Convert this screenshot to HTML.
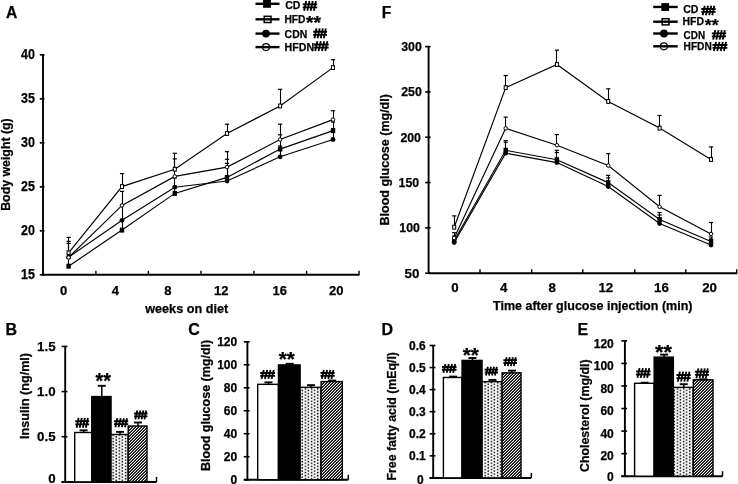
<!DOCTYPE html>
<html><head><meta charset="utf-8"><style>
html,body{margin:0;padding:0;background:#fff;overflow:hidden;width:738px;height:484px;}
svg{display:block;}
text{font-family:"Liberation Sans", sans-serif;fill:#000;stroke:#000;stroke-width:0.25px;}
svg{will-change:transform;}
</style></head><body>
<svg width="738" height="484" viewBox="0 0 738 484">
<rect width="738" height="484" fill="#fff"/>
<defs><pattern id="dots" width="6.2" height="3.1" patternUnits="userSpaceOnUse"><rect width="6.2" height="3.1" fill="#fff"/><rect x="0.8" y="0.6" width="1.5" height="1.5" fill="#000"/><rect x="3.9" y="2.15" width="1.5" height="1.5" fill="#000"/><rect x="3.9" y="-0.95" width="1.5" height="1.5" fill="#000"/></pattern><pattern id="hatch" width="3" height="3" patternUnits="userSpaceOnUse"><rect width="3" height="3" fill="#000"/><g fill="#fff" shape-rendering="crispEdges"><rect x="2" y="0" width="1" height="1"/><rect x="1" y="1" width="1" height="1"/><rect x="0" y="2" width="1" height="1"/></g><g fill="#4a4a4a" shape-rendering="crispEdges"><rect x="0" y="0" width="1" height="1"/><rect x="2" y="1" width="1" height="1"/><rect x="1" y="2" width="1" height="1"/></g></pattern></defs>
<text x="5.9" y="18.4" font-size="15.6" font-weight="bold" text-anchor="start" >A</text>
<line x1="43" y1="54.5" x2="43" y2="275.40000000000003" stroke="#000" stroke-width="1.9"/>
<line x1="39.8" y1="274.8" x2="44.5" y2="274.8" stroke="#000" stroke-width="1.7"/>
<text x="34.9" y="279.3" font-size="13.9" font-weight="bold" text-anchor="end" textLength="13.9" lengthAdjust="spacingAndGlyphs" >15</text>
<line x1="39.8" y1="230.8" x2="44.5" y2="230.8" stroke="#000" stroke-width="1.7"/>
<text x="34.9" y="235.3" font-size="13.9" font-weight="bold" text-anchor="end" textLength="13.9" lengthAdjust="spacingAndGlyphs" >20</text>
<line x1="39.8" y1="186.8" x2="44.5" y2="186.8" stroke="#000" stroke-width="1.7"/>
<text x="34.9" y="191.3" font-size="13.9" font-weight="bold" text-anchor="end" textLength="13.9" lengthAdjust="spacingAndGlyphs" >25</text>
<line x1="39.8" y1="142.8" x2="44.5" y2="142.8" stroke="#000" stroke-width="1.7"/>
<text x="34.9" y="147.3" font-size="13.9" font-weight="bold" text-anchor="end" textLength="13.9" lengthAdjust="spacingAndGlyphs" >30</text>
<line x1="39.8" y1="98.80000000000001" x2="44.5" y2="98.80000000000001" stroke="#000" stroke-width="1.7"/>
<text x="34.9" y="103.30000000000001" font-size="13.9" font-weight="bold" text-anchor="end" textLength="13.9" lengthAdjust="spacingAndGlyphs" >35</text>
<line x1="39.8" y1="54.79999999999998" x2="44.5" y2="54.79999999999998" stroke="#000" stroke-width="1.7"/>
<text x="34.9" y="59.29999999999998" font-size="13.9" font-weight="bold" text-anchor="end" textLength="13.9" lengthAdjust="spacingAndGlyphs" >40</text>
<line x1="43" y1="274.8" x2="359.5" y2="274.8" stroke="#000" stroke-width="2.0"/>
<line x1="95.9" y1="274.8" x2="95.9" y2="270.8" stroke="#000" stroke-width="1.4"/>
<line x1="148.4" y1="274.8" x2="148.4" y2="270.8" stroke="#000" stroke-width="1.4"/>
<line x1="201" y1="274.8" x2="201" y2="270.8" stroke="#000" stroke-width="1.4"/>
<line x1="253.9" y1="274.8" x2="253.9" y2="270.8" stroke="#000" stroke-width="1.4"/>
<line x1="306.6" y1="274.8" x2="306.6" y2="270.8" stroke="#000" stroke-width="1.4"/>
<line x1="359" y1="274.8" x2="359" y2="270.8" stroke="#000" stroke-width="1.4"/>
<text x="63.6" y="295.3" font-size="13" font-weight="bold" text-anchor="middle" >0</text>
<text x="115.4" y="295.3" font-size="13" font-weight="bold" text-anchor="middle" >4</text>
<text x="167.9" y="295.3" font-size="13" font-weight="bold" text-anchor="middle" >8</text>
<text x="221.2" y="295.3" font-size="13" font-weight="bold" text-anchor="middle" >12</text>
<text x="279.8" y="295.3" font-size="13" font-weight="bold" text-anchor="middle" >16</text>
<text x="336.3" y="295.3" font-size="13" font-weight="bold" text-anchor="middle" >20</text>
<text x="145.2" y="313" font-size="12.6" font-weight="bold" text-anchor="start" textLength="83" lengthAdjust="spacingAndGlyphs" >weeks on diet</text>
<text x="10" y="210.8" font-size="12.3" font-weight="bold" text-anchor="start" textLength="92.5" lengthAdjust="spacingAndGlyphs" transform="rotate(-90 10 210.8)" >Body weight (g)</text>
<line x1="68.5" y1="266.2" x2="68.5" y2="258" stroke="#000" stroke-width="1.1"/>
<line x1="66.5" y1="258" x2="70.69999999999999" y2="258" stroke="#000" stroke-width="1.2"/>
<line x1="122.5" y1="230.1" x2="122.5" y2="220" stroke="#000" stroke-width="1.1"/>
<line x1="119.9" y1="220" x2="124.1" y2="220" stroke="#000" stroke-width="1.2"/>
<line x1="174.5" y1="193.4" x2="174.5" y2="186" stroke="#000" stroke-width="1.1"/>
<line x1="172.70000000000002" y1="186" x2="176.9" y2="186" stroke="#000" stroke-width="1.2"/>
<line x1="227.5" y1="177.4" x2="227.5" y2="159.3" stroke="#000" stroke-width="1.1"/>
<line x1="224.9" y1="159.3" x2="229.1" y2="159.3" stroke="#000" stroke-width="1.2"/>
<line x1="280.5" y1="149.1" x2="280.5" y2="134.8" stroke="#000" stroke-width="1.1"/>
<line x1="278.0" y1="134.8" x2="282.20000000000005" y2="134.8" stroke="#000" stroke-width="1.2"/>
<line x1="333.5" y1="130.6" x2="333.5" y2="122" stroke="#000" stroke-width="1.1"/>
<line x1="330.9" y1="122" x2="335.1" y2="122" stroke="#000" stroke-width="1.2"/>
<line x1="68.5" y1="257.2" x2="68.5" y2="243.4" stroke="#000" stroke-width="1.1"/>
<line x1="66.5" y1="243.4" x2="70.69999999999999" y2="243.4" stroke="#000" stroke-width="1.2"/>
<line x1="122.5" y1="220.3" x2="122.5" y2="205" stroke="#000" stroke-width="1.1"/>
<line x1="119.9" y1="205" x2="124.1" y2="205" stroke="#000" stroke-width="1.2"/>
<line x1="174.5" y1="187.2" x2="174.5" y2="178" stroke="#000" stroke-width="1.1"/>
<line x1="172.70000000000002" y1="178" x2="176.9" y2="178" stroke="#000" stroke-width="1.2"/>
<line x1="227.5" y1="181" x2="227.5" y2="163.4" stroke="#000" stroke-width="1.1"/>
<line x1="224.9" y1="163.4" x2="229.1" y2="163.4" stroke="#000" stroke-width="1.2"/>
<line x1="280.5" y1="156.8" x2="280.5" y2="146" stroke="#000" stroke-width="1.1"/>
<line x1="278.0" y1="146" x2="282.20000000000005" y2="146" stroke="#000" stroke-width="1.2"/>
<line x1="333.5" y1="139.5" x2="333.5" y2="131" stroke="#000" stroke-width="1.1"/>
<line x1="330.9" y1="131" x2="335.1" y2="131" stroke="#000" stroke-width="1.2"/>
<line x1="68.5" y1="257.4" x2="68.5" y2="241.3" stroke="#000" stroke-width="1.1"/>
<line x1="66.5" y1="241.3" x2="70.69999999999999" y2="241.3" stroke="#000" stroke-width="1.2"/>
<line x1="122.5" y1="205.4" x2="122.5" y2="191.4" stroke="#000" stroke-width="1.1"/>
<line x1="119.9" y1="191.4" x2="124.1" y2="191.4" stroke="#000" stroke-width="1.2"/>
<line x1="174.5" y1="176.4" x2="174.5" y2="158.9" stroke="#000" stroke-width="1.1"/>
<line x1="172.70000000000002" y1="158.9" x2="176.9" y2="158.9" stroke="#000" stroke-width="1.2"/>
<line x1="227.5" y1="167.1" x2="227.5" y2="151.7" stroke="#000" stroke-width="1.1"/>
<line x1="224.9" y1="151.7" x2="229.1" y2="151.7" stroke="#000" stroke-width="1.2"/>
<line x1="280.5" y1="139.5" x2="280.5" y2="124.2" stroke="#000" stroke-width="1.1"/>
<line x1="278.0" y1="124.2" x2="282.20000000000005" y2="124.2" stroke="#000" stroke-width="1.2"/>
<line x1="333.5" y1="119.6" x2="333.5" y2="110.7" stroke="#000" stroke-width="1.1"/>
<line x1="330.9" y1="110.7" x2="335.1" y2="110.7" stroke="#000" stroke-width="1.2"/>
<line x1="68.5" y1="252.8" x2="68.5" y2="237.4" stroke="#000" stroke-width="1.1"/>
<line x1="66.5" y1="237.4" x2="70.69999999999999" y2="237.4" stroke="#000" stroke-width="1.2"/>
<line x1="122.5" y1="186.6" x2="122.5" y2="173.6" stroke="#000" stroke-width="1.1"/>
<line x1="119.9" y1="173.6" x2="124.1" y2="173.6" stroke="#000" stroke-width="1.2"/>
<line x1="174.5" y1="169.2" x2="174.5" y2="153.3" stroke="#000" stroke-width="1.1"/>
<line x1="172.70000000000002" y1="153.3" x2="176.9" y2="153.3" stroke="#000" stroke-width="1.2"/>
<line x1="227.5" y1="133.5" x2="227.5" y2="124.2" stroke="#000" stroke-width="1.1"/>
<line x1="224.9" y1="124.2" x2="229.1" y2="124.2" stroke="#000" stroke-width="1.2"/>
<line x1="280.5" y1="106" x2="280.5" y2="89.3" stroke="#000" stroke-width="1.1"/>
<line x1="278.0" y1="89.3" x2="282.20000000000005" y2="89.3" stroke="#000" stroke-width="1.2"/>
<line x1="333.5" y1="67.6" x2="333.5" y2="59.7" stroke="#000" stroke-width="1.1"/>
<line x1="330.9" y1="59.7" x2="335.1" y2="59.7" stroke="#000" stroke-width="1.2"/>
<polyline points="68.6,266.2 122,230.1 174.8,193.4 227,177.4 280.1,149.1 333,130.6" fill="none" stroke="#000" stroke-width="1.15"/>
<polyline points="68.6,257.2 122,220.3 174.8,187.2 227,181 280.1,156.8 333,139.5" fill="none" stroke="#000" stroke-width="1.15"/>
<polyline points="68.6,257.4 122,205.4 174.8,176.4 227,167.1 280.1,139.5 333,119.6" fill="none" stroke="#000" stroke-width="1.15"/>
<polyline points="68.6,252.8 122,186.6 174.8,169.2 227,133.5 280.1,106 333,67.6" fill="none" stroke="#000" stroke-width="1.15"/>
<rect x="66.39999999999999" y="263.7" width="4.4" height="5.0" fill="#000"/>
<rect x="119.8" y="227.6" width="4.4" height="5.0" fill="#000"/>
<rect x="172.60000000000002" y="190.9" width="4.4" height="5.0" fill="#000"/>
<rect x="224.8" y="174.9" width="4.4" height="5.0" fill="#000"/>
<rect x="277.90000000000003" y="146.6" width="4.4" height="5.0" fill="#000"/>
<rect x="330.8" y="128.1" width="4.4" height="5.0" fill="#000"/>
<circle cx="68.6" cy="257.2" r="2.4" fill="#000"/>
<circle cx="122" cy="220.3" r="2.4" fill="#000"/>
<circle cx="174.8" cy="187.2" r="2.4" fill="#000"/>
<circle cx="227" cy="181" r="2.4" fill="#000"/>
<circle cx="280.1" cy="156.8" r="2.4" fill="#000"/>
<circle cx="333" cy="139.5" r="2.4" fill="#000"/>
<circle cx="68.6" cy="257.4" r="1.75" fill="#fff" stroke="#000" stroke-width="1"/>
<circle cx="122" cy="205.4" r="1.75" fill="#fff" stroke="#000" stroke-width="1"/>
<circle cx="174.8" cy="176.4" r="1.75" fill="#fff" stroke="#000" stroke-width="1"/>
<circle cx="227" cy="167.1" r="1.75" fill="#fff" stroke="#000" stroke-width="1"/>
<circle cx="280.1" cy="139.5" r="1.75" fill="#fff" stroke="#000" stroke-width="1"/>
<circle cx="333" cy="119.6" r="1.75" fill="#fff" stroke="#000" stroke-width="1"/>
<rect x="67.1" y="250.9" width="3.0" height="3.8" fill="#fff" stroke="#000" stroke-width="1.05"/>
<rect x="120.5" y="184.7" width="3.0" height="3.8" fill="#fff" stroke="#000" stroke-width="1.05"/>
<rect x="173.3" y="167.29999999999998" width="3.0" height="3.8" fill="#fff" stroke="#000" stroke-width="1.05"/>
<rect x="225.5" y="131.6" width="3.0" height="3.8" fill="#fff" stroke="#000" stroke-width="1.05"/>
<rect x="278.6" y="104.1" width="3.0" height="3.8" fill="#fff" stroke="#000" stroke-width="1.05"/>
<rect x="331.5" y="65.69999999999999" width="3.0" height="3.8" fill="#fff" stroke="#000" stroke-width="1.05"/>
<line x1="255.5" y1="3.8" x2="279.5" y2="3.8" stroke="#000" stroke-width="2.4"/>
<rect x="263.1" y="0.0" width="7.8" height="7.8" fill="#000"/>
<line x1="255.5" y1="19.3" x2="279.5" y2="19.3" stroke="#000" stroke-width="2.4"/>
<rect x="264.20000000000005" y="16.3" width="6.8" height="6.2" fill="#fff" stroke="#000" stroke-width="1.5"/>
<line x1="264.0" y1="19.3" x2="271.20000000000005" y2="19.3" stroke="#000" stroke-width="2.4"/>
<line x1="255.5" y1="33.6" x2="279.5" y2="33.6" stroke="#000" stroke-width="2.4"/>
<circle cx="266" cy="33.6" r="3.9" fill="#000"/>
<line x1="255.5" y1="47.1" x2="279.5" y2="47.1" stroke="#000" stroke-width="2.4"/>
<circle cx="266" cy="47.1" r="3.5" fill="#fff" stroke="#000" stroke-width="1.2"/>
<line x1="262.5" y1="47.1" x2="269.5" y2="47.1" stroke="#000" stroke-width="2.4"/>
<text x="381.7" y="18.4" font-size="15.6" font-weight="bold" text-anchor="start" >F</text>
<line x1="428.6" y1="46" x2="428.6" y2="273.8" stroke="#000" stroke-width="1.9"/>
<line x1="425.1" y1="273.2" x2="430.6" y2="273.2" stroke="#000" stroke-width="1.6"/>
<text x="419.3" y="277.5" font-size="13.3" font-weight="bold" text-anchor="end" >50</text>
<line x1="425.1" y1="227.88" x2="430.6" y2="227.88" stroke="#000" stroke-width="1.6"/>
<text x="419.9" y="232.18" font-size="13.3" font-weight="bold" text-anchor="end" textLength="20.6" lengthAdjust="spacingAndGlyphs" >100</text>
<line x1="425.1" y1="182.56" x2="430.6" y2="182.56" stroke="#000" stroke-width="1.6"/>
<text x="419.2" y="186.86" font-size="13.3" font-weight="bold" text-anchor="end" textLength="20.6" lengthAdjust="spacingAndGlyphs" >150</text>
<line x1="425.1" y1="137.23999999999998" x2="430.6" y2="137.23999999999998" stroke="#000" stroke-width="1.6"/>
<text x="421" y="141.54" font-size="13.3" font-weight="bold" text-anchor="end" textLength="20.6" lengthAdjust="spacingAndGlyphs" >200</text>
<line x1="425.1" y1="91.91999999999999" x2="430.6" y2="91.91999999999999" stroke="#000" stroke-width="1.6"/>
<text x="421.8" y="96.21999999999998" font-size="13.3" font-weight="bold" text-anchor="end" textLength="20.6" lengthAdjust="spacingAndGlyphs" >250</text>
<line x1="425.1" y1="46.599999999999994" x2="430.6" y2="46.599999999999994" stroke="#000" stroke-width="1.6"/>
<text x="421.8" y="50.89999999999999" font-size="13.3" font-weight="bold" text-anchor="end" textLength="20.6" lengthAdjust="spacingAndGlyphs" >300</text>
<line x1="428.6" y1="273.2" x2="737.2" y2="273.2" stroke="#000" stroke-width="2.0"/>
<line x1="480" y1="273.2" x2="480" y2="269.2" stroke="#000" stroke-width="1.4"/>
<line x1="531.7" y1="273.2" x2="531.7" y2="269.2" stroke="#000" stroke-width="1.4"/>
<line x1="582.8" y1="273.2" x2="582.8" y2="269.2" stroke="#000" stroke-width="1.4"/>
<line x1="634.8" y1="273.2" x2="634.8" y2="269.2" stroke="#000" stroke-width="1.4"/>
<line x1="685.8" y1="273.2" x2="685.8" y2="269.2" stroke="#000" stroke-width="1.4"/>
<line x1="736.7" y1="273.2" x2="736.7" y2="269.2" stroke="#000" stroke-width="1.4"/>
<text x="454.9" y="291.9" font-size="13.3" font-weight="bold" text-anchor="middle" >0</text>
<text x="503.6" y="291.9" font-size="13.3" font-weight="bold" text-anchor="middle" >4</text>
<text x="552.3" y="291.9" font-size="13.3" font-weight="bold" text-anchor="middle" >8</text>
<text x="605.8" y="291.9" font-size="13.3" font-weight="bold" text-anchor="middle" >12</text>
<text x="661.5" y="291.9" font-size="13.3" font-weight="bold" text-anchor="middle" >16</text>
<text x="709.6" y="291.9" font-size="13.3" font-weight="bold" text-anchor="middle" >20</text>
<text x="493" y="309.9" font-size="12.6" font-weight="bold" text-anchor="start" textLength="199.5" lengthAdjust="spacingAndGlyphs" >Time after glucose injection (min)</text>
<text x="389.4" y="225.4" font-size="12.5" font-weight="bold" text-anchor="start" textLength="131.3" lengthAdjust="spacingAndGlyphs" transform="rotate(-90 389.4 225.4)" >Blood glucose (mg/dl)</text>
<line x1="454.5" y1="240.5" x2="454.5" y2="236" stroke="#000" stroke-width="1.1"/>
<line x1="452.09999999999997" y1="236" x2="456.3" y2="236" stroke="#000" stroke-width="1.2"/>
<line x1="505.5" y1="150.3" x2="505.5" y2="140.6" stroke="#000" stroke-width="1.1"/>
<line x1="503.59999999999997" y1="140.6" x2="507.8" y2="140.6" stroke="#000" stroke-width="1.2"/>
<line x1="556.5" y1="159.7" x2="556.5" y2="150.3" stroke="#000" stroke-width="1.1"/>
<line x1="554.8" y1="150.3" x2="559.0" y2="150.3" stroke="#000" stroke-width="1.2"/>
<line x1="608.5" y1="182.6" x2="608.5" y2="175.4" stroke="#000" stroke-width="1.1"/>
<line x1="606.1" y1="175.4" x2="610.3000000000001" y2="175.4" stroke="#000" stroke-width="1.2"/>
<line x1="659.5" y1="219.5" x2="659.5" y2="212.5" stroke="#000" stroke-width="1.1"/>
<line x1="657.5" y1="212.5" x2="661.7" y2="212.5" stroke="#000" stroke-width="1.2"/>
<line x1="711.5" y1="241.5" x2="711.5" y2="237" stroke="#000" stroke-width="1.1"/>
<line x1="708.9" y1="237" x2="713.1" y2="237" stroke="#000" stroke-width="1.2"/>
<line x1="454.5" y1="242.5" x2="454.5" y2="240" stroke="#000" stroke-width="1.1"/>
<line x1="452.09999999999997" y1="240" x2="456.3" y2="240" stroke="#000" stroke-width="1.2"/>
<line x1="505.5" y1="153.2" x2="505.5" y2="142.3" stroke="#000" stroke-width="1.1"/>
<line x1="503.59999999999997" y1="142.3" x2="507.8" y2="142.3" stroke="#000" stroke-width="1.2"/>
<line x1="556.5" y1="162.6" x2="556.5" y2="152.5" stroke="#000" stroke-width="1.1"/>
<line x1="554.8" y1="152.5" x2="559.0" y2="152.5" stroke="#000" stroke-width="1.2"/>
<line x1="608.5" y1="186.5" x2="608.5" y2="178" stroke="#000" stroke-width="1.1"/>
<line x1="606.1" y1="178" x2="610.3000000000001" y2="178" stroke="#000" stroke-width="1.2"/>
<line x1="659.5" y1="223.5" x2="659.5" y2="215" stroke="#000" stroke-width="1.1"/>
<line x1="657.5" y1="215" x2="661.7" y2="215" stroke="#000" stroke-width="1.2"/>
<line x1="711.5" y1="245" x2="711.5" y2="239" stroke="#000" stroke-width="1.1"/>
<line x1="708.9" y1="239" x2="713.1" y2="239" stroke="#000" stroke-width="1.2"/>
<line x1="454.5" y1="238" x2="454.5" y2="232.7" stroke="#000" stroke-width="1.1"/>
<line x1="452.09999999999997" y1="232.7" x2="456.3" y2="232.7" stroke="#000" stroke-width="1.2"/>
<line x1="505.5" y1="128.3" x2="505.5" y2="117.1" stroke="#000" stroke-width="1.1"/>
<line x1="503.59999999999997" y1="117.1" x2="507.8" y2="117.1" stroke="#000" stroke-width="1.2"/>
<line x1="556.5" y1="145.2" x2="556.5" y2="134.6" stroke="#000" stroke-width="1.1"/>
<line x1="554.8" y1="134.6" x2="559.0" y2="134.6" stroke="#000" stroke-width="1.2"/>
<line x1="608.5" y1="165.5" x2="608.5" y2="153.6" stroke="#000" stroke-width="1.1"/>
<line x1="606.1" y1="153.6" x2="610.3000000000001" y2="153.6" stroke="#000" stroke-width="1.2"/>
<line x1="659.5" y1="206.8" x2="659.5" y2="195.4" stroke="#000" stroke-width="1.1"/>
<line x1="657.5" y1="195.4" x2="661.7" y2="195.4" stroke="#000" stroke-width="1.2"/>
<line x1="711.5" y1="233.9" x2="711.5" y2="222.5" stroke="#000" stroke-width="1.1"/>
<line x1="708.9" y1="222.5" x2="713.1" y2="222.5" stroke="#000" stroke-width="1.2"/>
<line x1="454.5" y1="227.2" x2="454.5" y2="215.9" stroke="#000" stroke-width="1.1"/>
<line x1="452.09999999999997" y1="215.9" x2="456.3" y2="215.9" stroke="#000" stroke-width="1.2"/>
<line x1="505.5" y1="87.6" x2="505.5" y2="75.6" stroke="#000" stroke-width="1.1"/>
<line x1="503.59999999999997" y1="75.6" x2="507.8" y2="75.6" stroke="#000" stroke-width="1.2"/>
<line x1="556.5" y1="64.5" x2="556.5" y2="50.2" stroke="#000" stroke-width="1.1"/>
<line x1="554.8" y1="50.2" x2="559.0" y2="50.2" stroke="#000" stroke-width="1.2"/>
<line x1="608.5" y1="101.5" x2="608.5" y2="88.8" stroke="#000" stroke-width="1.1"/>
<line x1="606.1" y1="88.8" x2="610.3000000000001" y2="88.8" stroke="#000" stroke-width="1.2"/>
<line x1="659.5" y1="128.1" x2="659.5" y2="115.5" stroke="#000" stroke-width="1.1"/>
<line x1="657.5" y1="115.5" x2="661.7" y2="115.5" stroke="#000" stroke-width="1.2"/>
<line x1="711.5" y1="159.5" x2="711.5" y2="146.9" stroke="#000" stroke-width="1.1"/>
<line x1="708.9" y1="146.9" x2="713.1" y2="146.9" stroke="#000" stroke-width="1.2"/>
<polyline points="454.2,240.5 505.7,150.3 556.9,159.7 608.2,182.6 659.6,219.5 711,241.5" fill="none" stroke="#000" stroke-width="1.15"/>
<polyline points="454.2,242.5 505.7,153.2 556.9,162.6 608.2,186.5 659.6,223.5 711,245" fill="none" stroke="#000" stroke-width="1.15"/>
<polyline points="454.2,238 505.7,128.3 556.9,145.2 608.2,165.5 659.6,206.8 711,233.9" fill="none" stroke="#000" stroke-width="1.15"/>
<polyline points="454.2,227.2 505.7,87.6 556.9,64.5 608.2,101.5 659.6,128.1 711,159.5" fill="none" stroke="#000" stroke-width="1.15"/>
<rect x="452.0" y="238.0" width="4.4" height="5.0" fill="#000"/>
<rect x="503.5" y="147.8" width="4.4" height="5.0" fill="#000"/>
<rect x="554.6999999999999" y="157.2" width="4.4" height="5.0" fill="#000"/>
<rect x="606.0" y="180.1" width="4.4" height="5.0" fill="#000"/>
<rect x="657.4" y="217.0" width="4.4" height="5.0" fill="#000"/>
<rect x="708.8" y="239.0" width="4.4" height="5.0" fill="#000"/>
<circle cx="454.2" cy="242.5" r="2.4" fill="#000"/>
<circle cx="505.7" cy="153.2" r="2.4" fill="#000"/>
<circle cx="556.9" cy="162.6" r="2.4" fill="#000"/>
<circle cx="608.2" cy="186.5" r="2.4" fill="#000"/>
<circle cx="659.6" cy="223.5" r="2.4" fill="#000"/>
<circle cx="711" cy="245" r="2.4" fill="#000"/>
<circle cx="454.2" cy="238" r="1.75" fill="#fff" stroke="#000" stroke-width="1"/>
<circle cx="505.7" cy="128.3" r="1.75" fill="#fff" stroke="#000" stroke-width="1"/>
<circle cx="556.9" cy="145.2" r="1.75" fill="#fff" stroke="#000" stroke-width="1"/>
<circle cx="608.2" cy="165.5" r="1.75" fill="#fff" stroke="#000" stroke-width="1"/>
<circle cx="659.6" cy="206.8" r="1.75" fill="#fff" stroke="#000" stroke-width="1"/>
<circle cx="711" cy="233.9" r="1.75" fill="#fff" stroke="#000" stroke-width="1"/>
<rect x="452.7" y="225.29999999999998" width="3.0" height="3.8" fill="#fff" stroke="#000" stroke-width="1.05"/>
<rect x="504.2" y="85.69999999999999" width="3.0" height="3.8" fill="#fff" stroke="#000" stroke-width="1.05"/>
<rect x="555.4" y="62.6" width="3.0" height="3.8" fill="#fff" stroke="#000" stroke-width="1.05"/>
<rect x="606.7" y="99.6" width="3.0" height="3.8" fill="#fff" stroke="#000" stroke-width="1.05"/>
<rect x="658.1" y="126.19999999999999" width="3.0" height="3.8" fill="#fff" stroke="#000" stroke-width="1.05"/>
<rect x="709.5" y="157.6" width="3.0" height="3.8" fill="#fff" stroke="#000" stroke-width="1.05"/>
<line x1="653.2" y1="6.95" x2="677.7" y2="6.95" stroke="#000" stroke-width="2.4"/>
<rect x="661.3000000000001" y="3.1500000000000004" width="7.8" height="7.8" fill="#000"/>
<line x1="653.2" y1="21.7" x2="677.7" y2="21.7" stroke="#000" stroke-width="2.4"/>
<rect x="662.2" y="18.7" width="6.8" height="6.2" fill="#fff" stroke="#000" stroke-width="1.5"/>
<line x1="662.0" y1="21.7" x2="669.2" y2="21.7" stroke="#000" stroke-width="2.4"/>
<line x1="653.2" y1="33.5" x2="677.7" y2="33.5" stroke="#000" stroke-width="2.4"/>
<circle cx="664" cy="33.5" r="3.9" fill="#000"/>
<line x1="653.2" y1="46.3" x2="677.7" y2="46.3" stroke="#000" stroke-width="2.4"/>
<circle cx="663.9" cy="46.3" r="3.5" fill="#fff" stroke="#000" stroke-width="1.2"/>
<line x1="660.4" y1="46.3" x2="667.4" y2="46.3" stroke="#000" stroke-width="2.4"/>
<text x="5.6" y="334.7" font-size="16" font-weight="bold" text-anchor="start" >B</text>
<line x1="65.2" y1="345.9" x2="65.2" y2="482.5" stroke="#000" stroke-width="1.9"/>
<line x1="61.6" y1="481.9" x2="67.4" y2="481.9" stroke="#000" stroke-width="1.6"/>
<text x="55.6" y="483.3" font-size="13.3" font-weight="bold" text-anchor="end" >0</text>
<line x1="61.6" y1="436.75" x2="67.4" y2="436.75" stroke="#000" stroke-width="1.6"/>
<text x="55.6" y="441.405" font-size="13.3" font-weight="bold" text-anchor="end" >0.5</text>
<line x1="61.6" y1="391.59999999999997" x2="67.4" y2="391.59999999999997" stroke="#000" stroke-width="1.6"/>
<text x="55.6" y="396.25499999999994" font-size="13.3" font-weight="bold" text-anchor="end" >1.0</text>
<line x1="61.6" y1="346.45" x2="67.4" y2="346.45" stroke="#000" stroke-width="1.6"/>
<text x="55.6" y="351.10499999999996" font-size="13.3" font-weight="bold" text-anchor="end" >1.5</text>
<line x1="61.6" y1="481.9" x2="156.5" y2="481.9" stroke="#000" stroke-width="2.0"/>
<line x1="156.5" y1="481.9" x2="156.5" y2="476.9" stroke="#000" stroke-width="1.5"/>
<rect x="74.7" y="432.5059" width="17.049999999999997" height="49.39409999999998" fill="#fff" stroke="#000" stroke-width="1.4"/>
<rect x="91.75" y="396.5665" width="19.299999999999997" height="85.33349999999996" fill="#000" stroke="#000" stroke-width="1.4"/>
<rect x="111.05" y="434.49249999999995" width="17.14999999999999" height="47.40750000000003" fill="url(#dots)" stroke="#000" stroke-width="1.4"/>
<rect x="128.2" y="426.0043" width="18.80000000000001" height="55.89569999999998" fill="url(#hatch)" stroke="#000" stroke-width="1.4"/>
<line x1="83.625" y1="432.5059" x2="83.625" y2="430.33869999999996" stroke="#000" stroke-width="1.5"/>
<line x1="79.625" y1="430.33869999999996" x2="87.625" y2="430.33869999999996" stroke="#000" stroke-width="1.9"/>
<line x1="101.80000000000001" y1="396.5665" x2="101.80000000000001" y2="385.82079999999996" stroke="#000" stroke-width="1.5"/>
<line x1="97.80000000000001" y1="385.82079999999996" x2="105.80000000000001" y2="385.82079999999996" stroke="#000" stroke-width="1.9"/>
<line x1="120.025" y1="434.49249999999995" x2="120.025" y2="431.87379999999996" stroke="#000" stroke-width="1.5"/>
<line x1="116.025" y1="431.87379999999996" x2="124.025" y2="431.87379999999996" stroke="#000" stroke-width="1.9"/>
<line x1="138.0" y1="426.0043" x2="138.0" y2="422.4826" stroke="#000" stroke-width="1.5"/>
<line x1="134.0" y1="422.4826" x2="142.0" y2="422.4826" stroke="#000" stroke-width="1.9"/>
<path d="M76.60,427.70L78.60,417.90 M79.70,427.70L81.80,417.90 M82.90,427.70L84.90,417.90 M85.90,427.70L87.90,417.90 M75.30,421.20L89.10,421.20 M75.30,424.30L89.10,424.30" stroke="#000" stroke-width="1.85" fill="none"/>
<text x="95.6" y="388.0" font-size="21.43" font-weight="bold" text-anchor="start" textLength="15.3" lengthAdjust="spacingAndGlyphs" >**</text>
<path d="M115.34,427.20L117.40,418.20 M118.53,427.20L120.69,418.20 M121.82,427.20L123.88,418.20 M124.91,427.20L126.97,418.20 M114.00,421.23L128.20,421.23 M114.00,424.08L128.20,424.08" stroke="#000" stroke-width="1.85" fill="none"/>
<path d="M135.36,419.40L137.30,410.50 M138.37,419.40L140.41,410.50 M141.48,419.40L143.42,410.50 M144.39,419.40L146.33,410.50 M134.10,413.50L147.50,413.50 M134.10,416.31L147.50,416.31" stroke="#000" stroke-width="1.85" fill="none"/>
<text x="28.8" y="438.9" font-size="12.4" font-weight="bold" text-anchor="start" textLength="85.9" lengthAdjust="spacingAndGlyphs" transform="rotate(-90 28.8 438.9)" >Insulin (ng/ml)</text>
<text x="188.3" y="334.7" font-size="16" font-weight="bold" text-anchor="start" >C</text>
<line x1="247.4" y1="341.3" x2="247.4" y2="480.3" stroke="#000" stroke-width="1.9"/>
<line x1="243.8" y1="479.7" x2="249.6" y2="479.7" stroke="#000" stroke-width="1.6"/>
<text x="237.2" y="484" font-size="12" font-weight="bold" text-anchor="end" >0</text>
<line x1="243.8" y1="456.71999999999997" x2="249.6" y2="456.71999999999997" stroke="#000" stroke-width="1.6"/>
<text x="237.2" y="460.91999999999996" font-size="12" font-weight="bold" text-anchor="end" >20</text>
<line x1="243.8" y1="433.74" x2="249.6" y2="433.74" stroke="#000" stroke-width="1.6"/>
<text x="237.2" y="437.94" font-size="12" font-weight="bold" text-anchor="end" >40</text>
<line x1="243.8" y1="410.76" x2="249.6" y2="410.76" stroke="#000" stroke-width="1.6"/>
<text x="237.2" y="414.96" font-size="12" font-weight="bold" text-anchor="end" >60</text>
<line x1="243.8" y1="387.78" x2="249.6" y2="387.78" stroke="#000" stroke-width="1.6"/>
<text x="237.2" y="391.97999999999996" font-size="12" font-weight="bold" text-anchor="end" >80</text>
<line x1="243.8" y1="364.79999999999995" x2="249.6" y2="364.79999999999995" stroke="#000" stroke-width="1.6"/>
<text x="237.2" y="368.99999999999994" font-size="12" font-weight="bold" text-anchor="end" >100</text>
<line x1="243.8" y1="341.82" x2="249.6" y2="341.82" stroke="#000" stroke-width="1.6"/>
<text x="237.2" y="346.02" font-size="12" font-weight="bold" text-anchor="end" >120</text>
<line x1="243.8" y1="479.7" x2="348.3" y2="479.7" stroke="#000" stroke-width="2.0"/>
<line x1="348.3" y1="479.7" x2="348.3" y2="474.7" stroke="#000" stroke-width="1.5"/>
<rect x="257.7" y="384.33299999999997" width="20.75" height="95.36700000000002" fill="#fff" stroke="#000" stroke-width="1.4"/>
<rect x="278.45" y="364.9149" width="21.69999999999999" height="114.7851" fill="#000" stroke="#000" stroke-width="1.4"/>
<rect x="300.15" y="387.32039999999995" width="20.950000000000045" height="92.37960000000004" fill="url(#dots)" stroke="#000" stroke-width="1.4"/>
<rect x="321.1" y="381.57539999999995" width="21.19999999999999" height="98.12460000000004" fill="url(#hatch)" stroke="#000" stroke-width="1.4"/>
<line x1="268.47499999999997" y1="384.33299999999997" x2="268.47499999999997" y2="382.37969999999996" stroke="#000" stroke-width="1.5"/>
<line x1="264.47499999999997" y1="382.37969999999996" x2="272.47499999999997" y2="382.37969999999996" stroke="#000" stroke-width="1.9"/>
<line x1="289.69999999999993" y1="364.9149" x2="289.69999999999993" y2="363.7659" stroke="#000" stroke-width="1.5"/>
<line x1="285.69999999999993" y1="363.7659" x2="293.69999999999993" y2="363.7659" stroke="#000" stroke-width="1.9"/>
<line x1="311.025" y1="387.32039999999995" x2="311.025" y2="385.1373" stroke="#000" stroke-width="1.5"/>
<line x1="307.025" y1="385.1373" x2="315.025" y2="385.1373" stroke="#000" stroke-width="1.9"/>
<line x1="332.1" y1="381.57539999999995" x2="332.1" y2="380.5413" stroke="#000" stroke-width="1.5"/>
<line x1="328.1" y1="380.5413" x2="336.1" y2="380.5413" stroke="#000" stroke-width="1.9"/>
<path d="M261.60,378.90L263.76,370.00 M264.95,378.90L267.22,370.00 M268.41,378.90L270.57,370.00 M271.64,378.90L273.80,370.00 M260.20,373.00L275.10,373.00 M260.20,375.81L275.10,375.81" stroke="#000" stroke-width="1.85" fill="none"/>
<text x="278.75" y="366.0" font-size="20.14" font-weight="bold" text-anchor="start" textLength="16.15" lengthAdjust="spacingAndGlyphs" >**</text>
<path d="M321.84,378.90L323.90,370.00 M325.03,378.90L327.19,370.00 M328.32,378.90L330.38,370.00 M331.41,378.90L333.47,370.00 M320.50,373.00L334.70,373.00 M320.50,375.81L334.70,375.81" stroke="#000" stroke-width="1.85" fill="none"/>
<text x="210" y="471" font-size="12.4" font-weight="bold" text-anchor="start" textLength="131.2" lengthAdjust="spacingAndGlyphs" transform="rotate(-90 210 471)" >Blood glucose (mg/dl)</text>
<text x="381.4" y="334.7" font-size="16" font-weight="bold" text-anchor="start" >D</text>
<line x1="433.2" y1="345.0" x2="433.2" y2="478.5" stroke="#000" stroke-width="1.9"/>
<line x1="429.59999999999997" y1="477.9" x2="435.4" y2="477.9" stroke="#000" stroke-width="1.6"/>
<text x="423.8" y="484" font-size="12" font-weight="bold" text-anchor="end" >0</text>
<line x1="429.59999999999997" y1="455.83" x2="435.4" y2="455.83" stroke="#000" stroke-width="1.6"/>
<text x="425.8" y="460.03" font-size="12" font-weight="bold" text-anchor="end" >0.1</text>
<line x1="429.59999999999997" y1="433.76" x2="435.4" y2="433.76" stroke="#000" stroke-width="1.6"/>
<text x="425.8" y="437.96" font-size="12" font-weight="bold" text-anchor="end" >0.2</text>
<line x1="429.59999999999997" y1="411.69" x2="435.4" y2="411.69" stroke="#000" stroke-width="1.6"/>
<text x="425.8" y="415.89" font-size="12" font-weight="bold" text-anchor="end" >0.3</text>
<line x1="429.59999999999997" y1="389.62" x2="435.4" y2="389.62" stroke="#000" stroke-width="1.6"/>
<text x="425.8" y="393.82" font-size="12" font-weight="bold" text-anchor="end" >0.4</text>
<line x1="429.59999999999997" y1="367.54999999999995" x2="435.4" y2="367.54999999999995" stroke="#000" stroke-width="1.6"/>
<text x="425.8" y="371.74999999999994" font-size="12" font-weight="bold" text-anchor="end" >0.5</text>
<line x1="429.59999999999997" y1="345.48" x2="435.4" y2="345.48" stroke="#000" stroke-width="1.6"/>
<text x="425.8" y="349.68" font-size="12" font-weight="bold" text-anchor="end" >0.6</text>
<line x1="429.59999999999997" y1="477.9" x2="531.3" y2="477.9" stroke="#000" stroke-width="2.0"/>
<line x1="531.3" y1="477.9" x2="531.3" y2="472.9" stroke="#000" stroke-width="1.5"/>
<rect x="443.4" y="377.4815" width="18.650000000000034" height="100.4185" fill="#fff" stroke="#000" stroke-width="1.4"/>
<rect x="462.05" y="360.39932" width="20.0" height="117.50067999999999" fill="#000" stroke="#000" stroke-width="1.4"/>
<rect x="482.05" y="381.6748" width="20.05000000000001" height="96.22519999999997" fill="url(#dots)" stroke="#000" stroke-width="1.4"/>
<rect x="502.1" y="372.8468" width="18.899999999999977" height="105.0532" fill="url(#hatch)" stroke="#000" stroke-width="1.4"/>
<line x1="453.125" y1="377.4815" x2="453.125" y2="376.5987" stroke="#000" stroke-width="1.5"/>
<line x1="449.125" y1="376.5987" x2="457.125" y2="376.5987" stroke="#000" stroke-width="1.9"/>
<line x1="472.45" y1="360.39932" x2="472.45" y2="357.99369" stroke="#000" stroke-width="1.5"/>
<line x1="468.45" y1="357.99369" x2="476.45" y2="357.99369" stroke="#000" stroke-width="1.9"/>
<line x1="492.475" y1="381.6748" x2="492.475" y2="379.9092" stroke="#000" stroke-width="1.5"/>
<line x1="488.475" y1="379.9092" x2="496.475" y2="379.9092" stroke="#000" stroke-width="1.9"/>
<line x1="511.95" y1="372.8468" x2="511.95" y2="370.6398" stroke="#000" stroke-width="1.5"/>
<line x1="507.95" y1="370.6398" x2="515.95" y2="370.6398" stroke="#000" stroke-width="1.9"/>
<path d="M443.37,372.80L445.47,364.00 M446.62,372.80L448.83,364.00 M449.99,372.80L452.09,364.00 M453.14,372.80L455.24,364.00 M442.00,366.96L456.50,366.96 M442.00,369.75L456.50,369.75" stroke="#000" stroke-width="1.85" fill="none"/>
<text x="462.75" y="361.5" font-size="20.86" font-weight="bold" text-anchor="start" textLength="16.15" lengthAdjust="spacingAndGlyphs" >**</text>
<path d="M485.95,375.50L487.88,366.70 M488.94,375.50L490.96,366.70 M492.02,375.50L493.95,366.70 M494.92,375.50L496.84,366.70 M484.70,369.66L498.00,369.66 M484.70,372.45L498.00,372.45" stroke="#000" stroke-width="1.85" fill="none"/>
<path d="M504.68,366.00L506.65,357.20 M507.74,366.00L509.81,357.20 M510.89,366.00L512.86,357.20 M513.85,366.00L515.82,357.20 M503.40,360.16L517.00,360.16 M503.40,362.95L517.00,362.95" stroke="#000" stroke-width="1.85" fill="none"/>
<text x="395.6" y="480.4" font-size="12.4" font-weight="bold" text-anchor="start" textLength="128.3" lengthAdjust="spacingAndGlyphs" transform="rotate(-90 395.6 480.4)" >Free fatty acid (mEq/l)</text>
<text x="577.6" y="334.7" font-size="16" font-weight="bold" text-anchor="start" >E</text>
<line x1="624.9" y1="340.4" x2="624.9" y2="476.8" stroke="#000" stroke-width="1.9"/>
<line x1="621.3" y1="476.2" x2="627.1" y2="476.2" stroke="#000" stroke-width="1.6"/>
<text x="613.8" y="481" font-size="12" font-weight="bold" text-anchor="end" >0</text>
<line x1="621.3" y1="453.65" x2="627.1" y2="453.65" stroke="#000" stroke-width="1.6"/>
<text x="613.8" y="460.34999999999997" font-size="12" font-weight="bold" text-anchor="end" >20</text>
<line x1="621.3" y1="431.1" x2="627.1" y2="431.1" stroke="#000" stroke-width="1.6"/>
<text x="613.8" y="437.8" font-size="12" font-weight="bold" text-anchor="end" >40</text>
<line x1="621.3" y1="408.55" x2="627.1" y2="408.55" stroke="#000" stroke-width="1.6"/>
<text x="613.8" y="415.25" font-size="12" font-weight="bold" text-anchor="end" >60</text>
<line x1="621.3" y1="386.0" x2="627.1" y2="386.0" stroke="#000" stroke-width="1.6"/>
<text x="613.8" y="392.7" font-size="12" font-weight="bold" text-anchor="end" >80</text>
<line x1="621.3" y1="363.45" x2="627.1" y2="363.45" stroke="#000" stroke-width="1.6"/>
<text x="613.8" y="370.15" font-size="12" font-weight="bold" text-anchor="end" >100</text>
<line x1="621.3" y1="340.9" x2="627.1" y2="340.9" stroke="#000" stroke-width="1.6"/>
<text x="613.8" y="347.59999999999997" font-size="12" font-weight="bold" text-anchor="end" >120</text>
<line x1="621.3" y1="476.2" x2="722.5" y2="476.2" stroke="#000" stroke-width="2.0"/>
<line x1="722.5" y1="476.2" x2="722.5" y2="471.2" stroke="#000" stroke-width="1.5"/>
<rect x="634.6" y="383.294" width="19.549999999999955" height="92.906" fill="#fff" stroke="#000" stroke-width="1.4"/>
<rect x="654.15" y="357.13599999999997" width="19.200000000000045" height="119.06400000000002" fill="#000" stroke="#000" stroke-width="1.4"/>
<rect x="673.35" y="387.353" width="19.949999999999932" height="88.84699999999998" fill="url(#dots)" stroke="#000" stroke-width="1.4"/>
<rect x="693.3" y="379.79875" width="19.700000000000045" height="96.40125" fill="url(#hatch)" stroke="#000" stroke-width="1.4"/>
<line x1="644.775" y1="383.294" x2="644.775" y2="382.73024999999996" stroke="#000" stroke-width="1.5"/>
<line x1="640.775" y1="382.73024999999996" x2="648.775" y2="382.73024999999996" stroke="#000" stroke-width="1.9"/>
<line x1="664.15" y1="357.13599999999997" x2="664.15" y2="354.599125" stroke="#000" stroke-width="1.5"/>
<line x1="660.15" y1="354.599125" x2="668.15" y2="354.599125" stroke="#000" stroke-width="1.9"/>
<line x1="683.725" y1="387.353" x2="683.725" y2="384.196" stroke="#000" stroke-width="1.5"/>
<line x1="679.725" y1="384.196" x2="687.725" y2="384.196" stroke="#000" stroke-width="1.9"/>
<line x1="703.55" y1="379.79875" x2="703.55" y2="379.34775" stroke="#000" stroke-width="1.5"/>
<line x1="699.55" y1="379.34775" x2="707.55" y2="379.34775" stroke="#000" stroke-width="1.9"/>
<path d="M637.46,377.90L639.54,368.10 M640.69,377.90L642.88,368.10 M644.03,377.90L646.12,368.10 M647.16,377.90L649.25,368.10 M636.10,371.40L650.50,371.40 M636.10,374.50L650.50,374.50" stroke="#000" stroke-width="1.85" fill="none"/>
<text x="654.96" y="359.04" font-size="20.11" font-weight="bold" text-anchor="start" textLength="16.94" lengthAdjust="spacingAndGlyphs" >**</text>
<path d="M677.84,381.60L679.90,371.60 M681.03,381.60L683.19,371.60 M684.32,381.60L686.38,371.60 M687.41,381.60L689.47,371.60 M676.50,374.97L690.70,374.97 M676.50,378.13L690.70,378.13" stroke="#000" stroke-width="1.85" fill="none"/>
<path d="M696.41,378.40L698.42,368.40 M699.53,378.40L701.65,368.40 M702.76,378.40L704.77,368.40 M705.78,378.40L707.79,368.40 M695.10,371.77L709.00,371.77 M695.10,374.93L709.00,374.93" stroke="#000" stroke-width="1.85" fill="none"/>
<text x="589" y="472" font-size="12.4" font-weight="bold" text-anchor="start" textLength="112.5" lengthAdjust="spacingAndGlyphs" transform="rotate(-90 589 472)" >Cholesterol (mg/dl)</text>
<text x="285.2" y="8.5" font-size="11.5" font-weight="bold" text-anchor="start" textLength="15.2" lengthAdjust="spacingAndGlyphs" >CD</text>
<path d="M304.07,10.80L306.17,1.00 M307.32,10.80L309.53,1.00 M310.69,10.80L312.79,1.00 M313.84,10.80L315.94,1.00 M302.70,4.30L317.20,4.30 M302.70,7.40L317.20,7.40" stroke="#000" stroke-width="1.85" fill="none"/>
<text x="284.4" y="23.4" font-size="11.5" font-weight="bold" text-anchor="start" textLength="21" lengthAdjust="spacingAndGlyphs" >HFD</text>
<text x="306" y="28.499999999999996" font-size="18.0" font-weight="bold" text-anchor="start" textLength="15" lengthAdjust="spacingAndGlyphs" >**</text>
<text x="284.6" y="37.5" font-size="11.5" font-weight="bold" text-anchor="start" textLength="22.6" lengthAdjust="spacingAndGlyphs" >CDN</text>
<path d="M314.50,38.20L316.50,28.40 M317.60,38.20L319.70,28.40 M320.80,38.20L322.80,28.40 M323.80,38.20L325.80,28.40 M313.20,31.70L327.00,31.70 M313.20,34.80L327.00,34.80" stroke="#000" stroke-width="1.85" fill="none"/>
<text x="284.6" y="50.7" font-size="11.5" font-weight="bold" text-anchor="start" textLength="29.5" lengthAdjust="spacingAndGlyphs" >HFDN</text>
<path d="M315.20,51.00L317.36,41.20 M318.55,51.00L320.82,41.20 M322.01,51.00L324.17,41.20 M325.24,51.00L327.40,41.20 M313.80,44.50L328.70,44.50 M313.80,47.60L328.70,47.60" stroke="#000" stroke-width="1.85" fill="none"/>
<text x="683.2" y="12.9" font-size="11.5" font-weight="bold" text-anchor="start" textLength="15.2" lengthAdjust="spacingAndGlyphs" >CD</text>
<path d="M702.65,15.20L704.72,5.80 M705.86,15.20L708.04,5.80 M709.18,15.20L711.25,5.80 M712.28,15.20L714.36,5.80 M701.30,8.97L715.60,8.97 M701.30,11.94L715.60,11.94" stroke="#000" stroke-width="1.85" fill="none"/>
<text x="682.6" y="25.4" font-size="11.5" font-weight="bold" text-anchor="start" textLength="21.4" lengthAdjust="spacingAndGlyphs" >HFD</text>
<text x="704.7" y="30.6" font-size="17.14" font-weight="bold" text-anchor="start" textLength="13.9" lengthAdjust="spacingAndGlyphs" >**</text>
<text x="683.6" y="38.9" font-size="11.5" font-weight="bold" text-anchor="start" textLength="21.5" lengthAdjust="spacingAndGlyphs" >CDN</text>
<path d="M713.15,39.60L715.22,30.10 M716.36,39.60L718.54,30.10 M719.68,39.60L721.75,30.10 M722.78,39.60L724.86,30.10 M711.80,33.30L726.10,33.30 M711.80,36.30L726.10,36.30" stroke="#000" stroke-width="1.85" fill="none"/>
<text x="683.6" y="50.4" font-size="11.5" font-weight="bold" text-anchor="start" textLength="28.2" lengthAdjust="spacingAndGlyphs" >HFDN</text>
<path d="M713.90,51.00L716.06,41.90 M717.25,51.00L719.52,41.90 M720.71,51.00L722.87,41.90 M723.94,51.00L726.10,41.90 M712.50,44.96L727.40,44.96 M712.50,47.84L727.40,47.84" stroke="#000" stroke-width="1.85" fill="none"/>
</svg></body></html>
